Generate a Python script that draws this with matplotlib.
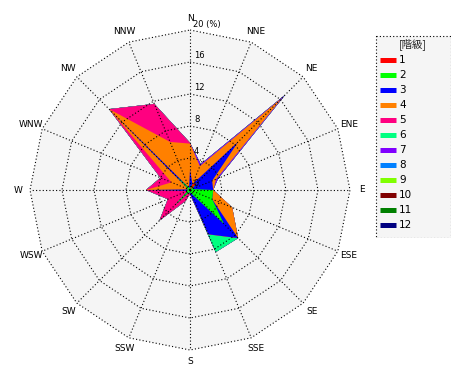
import matplotlib
matplotlib.use("Agg")
import matplotlib.pyplot as plt
from matplotlib.patches import Rectangle, Polygon
import numpy as np

# wind directions (compass, clockwise from N)
directions = ['N', 'NNE', 'NE', 'ENE', 'E', 'ESE', 'SE', 'SSE',
              'S', 'SSW', 'SW', 'WSW', 'W', 'WNW', 'NW', 'NNW']

# frequency (%) per class, one value per direction
class1 = [0, 0.8, 1.2, 0, 0, 0, 0, 0, 0, 0, 0, 0, 0, 0, 0, 0]
class2 = [0.3, 0, 0, 0.3, 2.9, 3.0, 6.0, 0.5, 0.3, 0.3, 2.7, 0.3, 0.5, 0.2, 2.5, 0.3]
class3 = [2.2, 0, 7.3, 2.7, 0, 0, 2.5, 5.5, 0.2, 0, 0, 0, 5.0, 0, 11.8, 0]
class4 = [3.3, 2.4, 7.7, 0.5, 0, 2.7, 0, 0, 0, 0, 0, 0, 0, 2.3, 0, 6.2]
class5 = [0.1, 0, 0, 0, 0, 0, 0, 0, 0, 1.2, 2.7, 2.7, 0, 1.5, 0, 5.15]
class6 = [0, 0, 0, 0, 0, 0, 0, 2.4, 0, 0, 0, 0, 0, 0, 0, 0]
class7 = [0, 0.3, 0.6, 0.3, 0, 0, 0, 0, 0, 0, 0, 0, 0, 0, 0, 0]
class8 = [0] * 16
class9 = [0] * 16
class10 = [0] * 16
class11 = [0] * 16
class12 = [0] * 16

class_labels = ['1', '2', '3', '4', '5', '6', '7', '8', '9', '10', '11', '12']
class_colors = ['#ff0000', '#00ff00', '#0000ff', '#ff8000', '#ff0080', '#00ff80',
                '#8000ff', '#0080ff', '#80ff00', '#800000', '#008000', '#000080']
ring_values = [4, 8, 12, 16, 20]

freq = np.array([class1, class2, class3, class4, class5, class6,
                 class7, class8, class9, class10, class11, class12])
cum = np.cumsum(freq, axis=0)

theta = np.deg2rad(np.arange(16) * 22.5)
sx, sy = np.sin(theta), np.cos(theta)

fig = plt.figure(figsize=(4.7, 3.8), dpi=100)
ax = fig.add_axes([14 / 470, 14 / 380, 352 / 470, 352 / 380])
ax.set_xlim(-22, 22)
ax.set_ylim(-22, 22)
ax.axis('off')

rmax = ring_values[-1]
ax.add_patch(Polygon(np.c_[rmax * sx, rmax * sy], closed=True,
                     facecolor='#f5f5f5', edgecolor='none', zorder=0))

# stacked polygons, outermost class first
for k in range(len(class_labels) - 1, -1, -1):
    r = cum[k]
    ax.fill(r * sx, r * sy, color=class_colors[k], lw=0, zorder=1)

grid_kw = dict(color='black', lw=0.8, dashes=(1, 2), zorder=2)
for rv in ring_values:
    ax.plot(np.r_[rv * sx, rv * sx[0]], np.r_[rv * sy, rv * sy[0]], **grid_kw)
for i in range(16):
    ax.plot([0, rmax * sx[i]], [0, rmax * sy[i]], **grid_kw)

for rv in ring_values[:-1]:
    ax.text(0.5, rv + 0.2, str(rv), fontsize=6, ha='left', va='bottom', zorder=3)
ax.text(0.4, rmax + 0.1, '20 (%)', fontsize=6, ha='left', va='bottom', zorder=3)
ax.text(0.5, 0.2, '0', fontsize=6, ha='left', va='bottom', zorder=3)

for i, d in enumerate(directions):
    ax.text(21.5 * sx[i], 21.4 * sy[i], d, fontsize=6.5, ha='center', va='center')

# legend box
lax = fig.add_axes([375 / 470, (380 - 238) / 380, 76 / 470, 203 / 380])
lax.set_xlim(0, 76)
lax.set_ylim(203, 0)
lax.axis('off')
lax.add_patch(Rectangle((0.5, 0.5), 75, 202, facecolor='#f5f5f5', edgecolor='black',
                        lw=0.8, linestyle=(0, (1, 2))))
lax.text(38, 9, '[階級]', fontsize=7.5, ha='center', va='center',
         family=['Noto Sans CJK JP', 'DejaVu Sans'], color='#222222')
for i, (lab, col) in enumerate(zip(class_labels, class_colors)):
    y = 25 + 15 * i
    lax.plot([5, 21], [y, y], color=col, lw=3.6, solid_capstyle='butt')
    lax.text(24, y, lab, fontsize=7.5, ha='left', va='center')

fig.savefig('out.png', dpi=100)
